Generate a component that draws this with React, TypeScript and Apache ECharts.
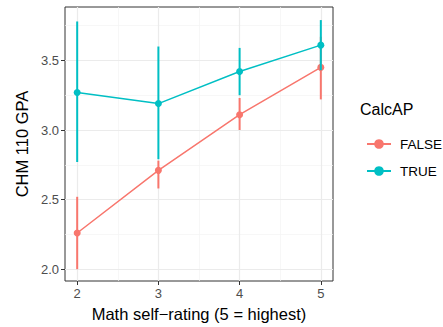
import React, { useEffect, useRef } from "react";
import * as echarts from "echarts";

const ratings = [2, 3, 4, 5];
const falseMean = [2.26, 2.71, 3.11, 3.45];
const falseLo = [2.0, 2.58, 3.0, 3.22];
const falseHi = [2.52, 2.78, 3.23, 3.67];
const trueMean = [3.27, 3.19, 3.42, 3.61];
const trueLo = [2.77, 2.79, 3.25, 3.43];
const trueHi = [3.78, 3.6, 3.59, 3.79];

const xTicks = [2, 3, 4, 5];
const xMinor = [2.5, 3.5, 4.5];
const yTicks = [2.0, 2.5, 3.0, 3.5];
const yMinor = [2.25, 2.75, 3.25, 3.75];

const RED = "#F8766D";
const TEAL = "#00BFC4";
const FONT = "'Liberation Sans', Arial, sans-serif";

function errSeries(name: string, color: string, lo: number[], hi: number[], z: number) {
  return {
    type: "custom",
    name,
    z,
    silent: true,
    data: ratings.map((r, i) => [r, lo[i], hi[i]]),
    renderItem: (params: any, api: any) => {
      const p1 = api.coord([api.value(0), api.value(1)]);
      const p2 = api.coord([api.value(0), api.value(2)]);
      return {
        type: "line",
        shape: { x1: p1[0], y1: p1[1], x2: p2[0], y2: p2[1] },
        style: { stroke: color, lineWidth: 2 },
      };
    },
  };
}

export default function App() {
  const ref = useRef<HTMLDivElement>(null);
  useEffect(() => {
    const chart = echarts.init(ref.current!, null, { renderer: "svg" });
    const gridLine = (axis: "xAxis" | "yAxis", v: number, major: boolean) => ({
      [axis]: v,
      lineStyle: { color: major ? "#EBEBEB" : "#F4F4F4", width: major ? 1.2 : 0.7, type: "solid" },
    });
    chart.setOption({
      animation: false,
      textStyle: { fontFamily: FONT },
      grid: {
        left: 65,
        top: 7,
        width: 268,
        height: 277,
        show: true,
        borderColor: "#333333",
        borderWidth: 1,
        backgroundColor: "transparent",
        containLabel: false,
      },
      xAxis: {
        type: "value",
        min: 1.85,
        max: 5.15,
        name: "Math self\u2212rating (5 = highest)",
        nameLocation: "middle",
        nameGap: 24,
        nameTextStyle: { color: "#000", fontSize: 16.5, fontFamily: FONT },
        axisLine: { show: false },
        axisTick: { show: true, customValues: xTicks, length: 4, lineStyle: { color: "#333", width: 1 } },
        axisLabel: {
          customValues: xTicks,
          color: "#4D4D4D",
          fontSize: 13,
          margin: 6,
          fontFamily: FONT,
        },
        splitLine: { show: false },
      },
      yAxis: {
        type: "value",
        min: 1.915,
        max: 3.884,
        name: "CHM 110 GPA",
        nameLocation: "middle",
        nameGap: 27,
        nameTextStyle: { color: "#000", fontSize: 16.5, fontFamily: FONT },
        axisLine: { show: false },
        axisTick: { show: true, customValues: yTicks, length: 4, lineStyle: { color: "#333", width: 1 } },
        axisLabel: {
          customValues: yTicks,
          color: "#4D4D4D",
          fontSize: 13,
          margin: 6,
          fontFamily: FONT,
          formatter: (v: number) => v.toFixed(1),
        },
        splitLine: { show: false },
      },
      legend: {
        data: ["FALSE", "TRUE"],
        orient: "vertical",
        left: 361,
        top: 132,
        itemWidth: 24,
        itemHeight: 12,
        itemGap: 13,
        textStyle: { color: "#000", fontSize: 13.5, fontFamily: FONT, padding: [0, 0, 0, 4] },
      },
      graphic: [
        {
          type: "text",
          left: 360,
          top: 101,
          style: { text: "CalcAP", fill: "#000", font: `16px ${FONT}` },
        },
      ],
      series: [
        {
          type: "line",
          name: "grid",
          data: [],
          silent: true,
          z: 0,
          markLine: {
            silent: true,
            z: 0,
            symbol: "none",
            label: { show: false },
            animation: false,
            data: [
              ...xMinor.map((v) => gridLine("xAxis", v, false)),
              ...yMinor.map((v) => gridLine("yAxis", v, false)),
              ...xTicks.map((v) => gridLine("xAxis", v, true)),
              ...yTicks.map((v) => gridLine("yAxis", v, true)),
            ],
          },
        },
        {
          type: "line",
          name: "FALSE",
          z: 12,
          data: ratings.map((r, i) => [r, falseMean[i]]),
          symbol: "circle",
          symbolSize: 7,
          itemStyle: { color: RED },
          lineStyle: { color: RED, width: 1.5 },
        },
        errSeries("FALSE_err", RED, falseLo, falseHi, 13),
        {
          type: "line",
          name: "TRUE",
          z: 14,
          data: ratings.map((r, i) => [r, trueMean[i]]),
          symbol: "circle",
          symbolSize: 7,
          itemStyle: { color: TEAL },
          lineStyle: { color: TEAL, width: 1.5 },
        },
        errSeries("TRUE_err", TEAL, trueLo, trueHi, 15),
      ],
    });
    return () => chart.dispose();
  }, []);
  return (
    <div
      ref={ref}
      style={{ position: "fixed", left: 0, top: 0, width: 443, height: 327, background: "#fff" }}
    />
  );
}
